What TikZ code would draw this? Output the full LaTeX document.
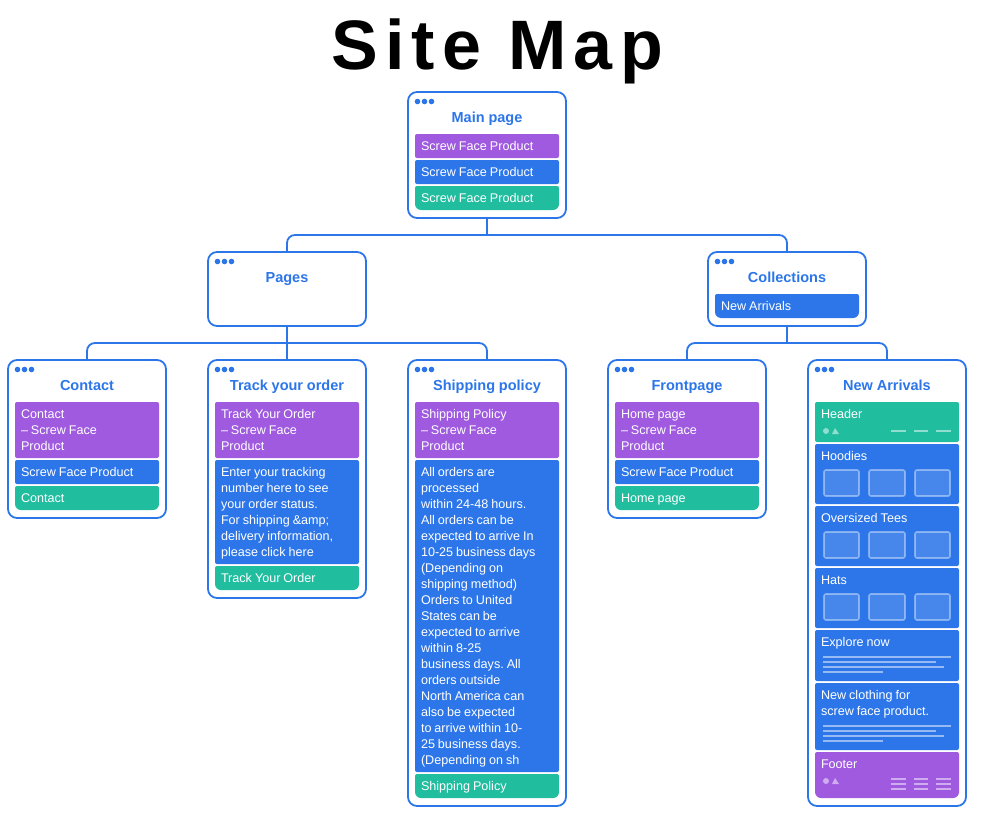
\documentclass[tikz,border=0pt]{standalone}
\usepackage{fontspec}
\setmainfont[WordSpace=0.85, BoldFeatures={WordSpace=0.95}]{Liberation Sans}
\newfontfamily\titlefont[LetterSpace=10.5]{Liberation Sans}
\usetikzlibrary{calc}
\frenchspacing

\definecolor{siteblue}{HTML}{2C76EA}
\definecolor{sitepurple}{HTML}{9F5AE0}
\definecolor{sitegreen}{HTML}{21BD9F}

\newcommand{\lineup}{\rule{0pt}{12.5pt}}
\newcommand{\linedown}{\rule[-3.5pt]{0pt}{3.5pt}}

\tikzset{
  card/.style={draw=siteblue, line width=1.8pt, fill=white, rounded corners=9pt, anchor=north west, minimum width=158pt, inner sep=0pt, outer sep=0pt},
  cardtitle/.style={text=siteblue, text height=10.5pt, text depth=3pt, font=\fontsize{14.5}{16}\selectfont\bfseries},
  sbar/.style={anchor=north west, minimum width=144pt, text width=132pt, inner xsep=6pt, inner ysep=0pt, outer sep=0pt, rounded corners=2pt, text=white, align=flush left, font=\fontsize{12.6}{16}\selectfont,
    execute at begin node=\lineup, execute at end node=\linedown},
  sbartop/.style={anchor=north west, text width=132pt, inner xsep=6pt, inner ysep=4pt, outer sep=0pt, text=white, font=\fontsize{12.6}{16}\selectfont, align=flush left,
    execute at begin node=\lineup, execute at end node=\linedown},
  link/.style={draw=siteblue, line width=1.8pt, rounded corners=8pt},
  wire/.style={draw=white, draw opacity=0.5, line width=1.6pt},
  wirebox/.style={draw=white, draw opacity=0.4, fill=white, fill opacity=0.13, line width=1.6pt, rounded corners=2pt},
  wiremark/.style={fill=white, fill opacity=0.5}
}

% last bar of a card, bottom corners rounder than the top ones
\newcommand{\lastbar}[6]{%
  \fill[#5, rounded corners=2pt] (#2,#3) -- ++(144,0) [rounded corners=6pt] -- ++(0,#4) -- ++(-144,0) [rounded corners=2pt] -- cycle;
  \node[sbar, minimum height=#4pt] (#1) at (#2,#3) {#6};
}

\begin{document}
\begin{tikzpicture}[x=1pt, y=-1pt]
  \useasboundingbox (0,0) rectangle (996,819);

  \node[anchor=base, font=\titlefont\fontsize{70}{80}\selectfont\bfseries] (title) at (497,69) {Site Map};

  % Cards
  \node[card, minimum height=126pt] (main) at (408,92) {};
  \node[card, minimum height=74pt] (pages) at (208,252) {};
  \node[card, minimum height=74pt] (collections) at (708,252) {};
  \node[card, minimum height=158pt] (contact) at (8,360) {};
  \node[card, minimum height=238pt] (track) at (208,360) {};
  \node[card, minimum height=446pt] (shipping) at (408,360) {};
  \node[card, minimum height=158pt] (frontpage) at (608,360) {};
  \node[card, minimum height=446pt] (arrivals) at (808,360) {};

  % Connectors
  \coordinate (main-bus) at ($(main.south)+(0,17)$);
  \coordinate (pages-bus) at ($(pages.south)+(0,17)$);
  \coordinate (collections-bus) at ($(collections.south)+(0,17)$);
  \draw[link] (main.south) -- (main-bus);
  \draw[link] (main-bus) -| (pages.north);
  \draw[link] (main-bus) -| (collections.north);
  \draw[link] (pages.south) -- (track.north);
  \draw[link] (pages-bus) -| (contact.north);
  \draw[link] (pages-bus) -| (shipping.north);
  \draw[link] (collections.south) -- (collections-bus);
  \draw[link] (collections-bus) -| (frontpage.north);
  \draw[link] (collections-bus) -| (arrivals.north);

  % Window dots and titles
  \foreach \c/\t in {main/Main page, pages/Pages, collections/Collections, contact/Contact, track/Track your order, shipping/Shipping policy, frontpage/Frontpage, arrivals/New Arrivals} {
    \foreach \i in {0,1,2}
      \fill[siteblue] ($(\c.north west)+(9.5+7*\i,9.5)$) circle (2.8);
    \node[cardtitle] (\c-title) at ($(\c.north)+(0,27)$) {\t};
  }

  % Main page
  \node[sbar, fill=sitepurple, minimum height=24pt] (main-a) at (415,134) {Screw Face Product};
  \node[sbar, fill=siteblue, minimum height=24pt] (main-b) at (415,160) {Screw Face Product};
  \lastbar{main-c}{415}{186}{24}{sitegreen}{Screw Face Product}

  % Collections
  \lastbar{collections-a}{715}{294}{24}{siteblue}{New Arrivals}

  % Contact
  \node[sbar, fill=sitepurple, minimum height=56pt] (contact-a) at (15,402) {Contact\\– Screw Face\\Product};
  \node[sbar, fill=siteblue, minimum height=24pt] (contact-b) at (15,460) {Screw Face Product};
  \lastbar{contact-c}{15}{486}{24}{sitegreen}{Contact}

  % Track your order
  \node[sbar, fill=sitepurple, minimum height=56pt] (track-a) at (215,402) {Track Your Order\\– Screw Face\\Product};
  \node[sbar, fill=siteblue, minimum height=104pt] (track-b) at (215,460) {Enter your tracking\\number here to see\\your order status.\\For shipping \&amp;\\delivery information,\\please click here};
  \lastbar{track-c}{215}{566}{24}{sitegreen}{Track Your Order}

  % Shipping policy
  \node[sbar, fill=sitepurple, minimum height=56pt] (shipping-a) at (415,402) {Shipping Policy\\– Screw Face\\Product};
  \node[sbar, fill=siteblue, minimum height=312pt] (shipping-b) at (415,460) {All orders are\\processed\\within 24-48 hours.\\All orders can be\\expected to arrive In\\10-25 business days\\(Depending on\\shipping method)\\Orders to United\\States can be\\expected to arrive\\within 8-25\\business days. All\\orders outside\\North America can\\also be expected\\to arrive within 10-\\25 business days.\\(Depending on sh};
  \lastbar{shipping-c}{415}{774}{24}{sitegreen}{Shipping Policy}

  % Frontpage
  \node[sbar, fill=sitepurple, minimum height=56pt] (frontpage-a) at (615,402) {Home page\\– Screw Face\\Product};
  \node[sbar, fill=siteblue, minimum height=24pt] (frontpage-b) at (615,460) {Screw Face Product};
  \lastbar{frontpage-c}{615}{486}{24}{sitegreen}{Home page}

  % New Arrivals
  \node[sbar, fill=sitegreen, minimum height=40pt] (header) at (815,402) {};
  \node[sbar, fill=siteblue, minimum height=60pt] (hoodies) at (815,444) {};
  \node[sbar, fill=siteblue, minimum height=60pt] (tees) at (815,506) {};
  \node[sbar, fill=siteblue, minimum height=60pt] (hats) at (815,568) {};
  \node[sbar, fill=siteblue, minimum height=51pt] (explore) at (815,630) {};
  \node[sbar, fill=siteblue, minimum height=67pt] (clothing) at (815,683) {};
  \lastbar{footer}{815}{752}{46}{sitepurple}{}

  \node[sbartop] (header-text) at (header.north west) {Header};
  \node[sbartop] (hoodies-text) at (hoodies.north west) {Hoodies};
  \node[sbartop] (tees-text) at (tees.north west) {Oversized Tees};
  \node[sbartop] (hats-text) at (hats.north west) {Hats};
  \node[sbartop] (explore-text) at (explore.north west) {Explore now};
  \node[sbartop] (clothing-text) at (clothing.north west) {New clothing for\\screw face product.};
  \node[sbartop] (footer-text) at (footer.north west) {Footer};

  % Image placeholders
  \foreach \y in {470,532,594} {
    \draw[wirebox] (824,\y) rectangle (859,\y+26);
    \draw[wirebox] (869,\y) rectangle (905,\y+26);
    \draw[wirebox] (915,\y) rectangle (950,\y+26);
  }

  % Text placeholders
  \foreach \y in {657,726} {
    \draw[wire] (823,\y) -- (951,\y);
    \draw[wire] (823,\y+5) -- (936,\y+5);
    \draw[wire] (823,\y+10) -- (944,\y+10);
    \draw[wire] (823,\y+15) -- (883,\y+15);
  }

  % Header and footer marks
  \foreach \y in {431,781} {
    \fill[wiremark] (826,\y) circle (3);
    \fill[wiremark] (832,\y+3) -- (835,\y-3) -- (839,\y+3) -- cycle;
  }
  \foreach \a/\b in {891/906,914/928,936/951} {
    \draw[wire] (\a,431) -- (\b,431);
    \draw[wire] (\a,779) -- (\b,779);
    \draw[wire] (\a,784) -- (\b,784);
    \draw[wire] (\a,789) -- (\b,789);
  }
\end{tikzpicture}
\end{document}
